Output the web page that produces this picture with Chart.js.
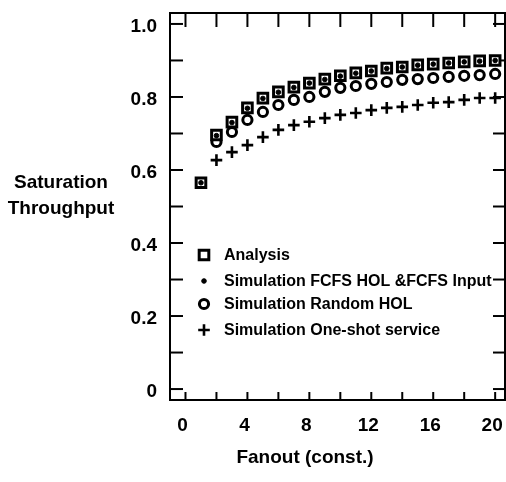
<!DOCTYPE html>
<html lang="en">
<head>
<meta charset="UTF-8">
<title>Saturation Throughput vs Fanout</title>
<script src="https://cdn.jsdelivr.net/npm/chart.js"></script>
<style>
    html, body { margin: 0; padding: 0; background: #fff; }
    #wrap { width: 506px; height: 482px; }
</style>
</head>
<body>
<div id="wrap"><canvas id="myChart" width="506" height="482"></canvas></div>

<script>
    // values
    const fanout = [1, 2, 3, 4, 5, 6, 7, 8, 9, 10, 11, 12, 13, 14, 15, 16, 17, 18, 19, 20];
    const analysis = [0.565, 0.696, 0.731, 0.770, 0.797, 0.814, 0.827, 0.838, 0.849, 0.858, 0.866, 0.871, 0.879, 0.882, 0.888, 0.890, 0.893, 0.896, 0.899, 0.900];
    const fcfsHol = [0.565, 0.694, 0.730, 0.769, 0.796, 0.813, 0.826, 0.838, 0.848, 0.857, 0.865, 0.871, 0.878, 0.882, 0.887, 0.890, 0.893, 0.896, 0.898, 0.900];
    const randomHol = [null, 0.677, 0.704, 0.737, 0.759, 0.778, 0.792, 0.800, 0.814, 0.825, 0.830, 0.836, 0.841, 0.847, 0.849, 0.852, 0.855, 0.858, 0.860, 0.863];
    const oneShot = [null, 0.627, 0.649, 0.668, 0.690, 0.710, 0.723, 0.732, 0.742, 0.751, 0.756, 0.764, 0.770, 0.773, 0.778, 0.784, 0.786, 0.792, 0.797, 0.797];

    const seriesNames = ['Analysis', 'Simulation FCFS HOL &FCFS Input', 'Simulation Random HOL', 'Simulation One-shot service'];
    const yTickLabels = [0, 0.2, 0.4, 0.6, 0.8, 1.0];
    const xTickLabels = [0, 4, 8, 12, 16, 20];
    const yMinorTicks = [0, 0.1, 0.2, 0.3, 0.4, 0.5, 0.6, 0.7, 0.8, 0.9, 1.0];
    const xMinorTicks = [0, 2, 4, 6, 8, 10, 12, 14, 16, 18, 20];

    const FONT = '"Liberation Sans", Arial, sans-serif';

    function toPoints(values) {
        return fanout.map((f, i) => ({ x: f, y: values[i] }));
    }

    function line(ctx, x1, y1, x2, y2) {
        ctx.beginPath();
        ctx.moveTo(x1, y1);
        ctx.lineTo(x2, y2);
        ctx.stroke();
    }

    // frame with inward ticks, axis titles and the legend box inside the plot
    const framePlugin = {
        id: 'frame',
        beforeDatasetsDraw(chart) {
            const { ctx, chartArea: a, scales: { x, y } } = chart;
            ctx.save();
            ctx.strokeStyle = '#000';
            ctx.lineWidth = 2;
            ctx.strokeRect(a.left, a.top, a.right - a.left - 1, a.bottom - a.top);
            yMinorTicks.forEach(v => {
                const py = y.getPixelForValue(v);
                line(ctx, a.left, py, a.left + 13, py);
                line(ctx, a.right, py, a.right - 13, py);
            });
            xMinorTicks.forEach(v => {
                const px = x.getPixelForValue(v);
                line(ctx, px, a.top, px, a.top + 14);
                line(ctx, px, a.bottom, px, a.bottom - 8);
            });
            ctx.restore();
        },
        afterDraw(chart) {
            const { ctx } = chart;
            ctx.save();
            ctx.fillStyle = '#000';
            ctx.font = 'bold 19px ' + FONT;
            ctx.textAlign = 'center';
            ctx.textBaseline = 'middle';
            ctx.fillText('Saturation', 61, 183);
            ctx.fillText('Throughput', 61, 209);
            ctx.fillText('Fanout (const.)', 305, 458);

            // legend
            const rows = [255, 281, 304, 330];
            ctx.font = 'bold 16px ' + FONT;
            ctx.textAlign = 'left';
            chart.data.datasets.forEach((ds, i) => {
                ctx.strokeStyle = '#000';
                ctx.fillStyle = ds.pointBackgroundColor;
                ctx.lineWidth = ds.pointBorderWidth;
                Chart.helpers.drawPoint(ctx, {
                    pointStyle: ds.pointStyle,
                    radius: ds.pointRadius,
                    borderWidth: ds.pointBorderWidth,
                    rotation: 0
                }, 204, rows[i]);
                ctx.fillStyle = '#000';
                ctx.fillText(seriesNames[i], 224, rows[i] + 1);
            });
            ctx.restore();
        }
    };

    function createChart() {
        const ctx = document.getElementById('myChart').getContext('2d');

        new Chart(ctx, {
            type: 'scatter',
            data: {
                datasets: [{
                    label: seriesNames[0],
                    data: toPoints(analysis),
                    pointStyle: 'rect',
                    pointRadius: 6.8,
                    pointBorderWidth: 3,
                    pointBorderColor: '#000',
                    pointBackgroundColor: '#fff',
                    order: 1
                }, {
                    label: seriesNames[1],
                    data: toPoints(fcfsHol),
                    pointStyle: 'circle',
                    pointRadius: 2.3,
                    pointBorderWidth: 1,
                    pointBorderColor: '#000',
                    pointBackgroundColor: '#000',
                    order: 0
                }, {
                    label: seriesNames[2],
                    data: toPoints(randomHol),
                    pointStyle: 'circle',
                    pointRadius: 4.6,
                    pointBorderWidth: 3,
                    pointBorderColor: '#000',
                    pointBackgroundColor: '#fff',
                    order: 2
                }, {
                    label: seriesNames[3],
                    data: toPoints(oneShot),
                    pointStyle: 'cross',
                    pointRadius: 5.8,
                    pointBorderWidth: 2.6,
                    pointBorderColor: '#000',
                    pointBackgroundColor: '#000',
                    order: 3
                }]
            },
            options: {
                responsive: false,
                animation: false,
                layout: { autoPadding: false, padding: { top: 13, right: 0, left: 0, bottom: 0 } },
                plugins: {
                    legend: { display: false },
                    tooltip: { enabled: false }
                },
                scales: {
                    x: {
                        type: 'linear',
                        min: -1,
                        max: 20.7,
                        grid: { display: false, drawTicks: false },
                        border: { display: false },
                        afterBuildTicks: scale => { scale.ticks = xTickLabels.map(v => ({ value: v })); },
                        afterFit: scale => {
                            scale.height = 82;
                            scale.paddingLeft = 0;
                            scale.paddingRight = 0;
                        },
                        ticks: {
                            padding: 14,
                            labelOffset: -3,
                            maxRotation: 0,
                            color: '#000',
                            font: { family: FONT, size: 19, weight: 'bold' }
                        }
                    },
                    y: {
                        min: -0.03,
                        max: 1.03,
                        grid: { display: false, drawTicks: false },
                        border: { display: false },
                        afterBuildTicks: scale => { scale.ticks = yTickLabels.map(v => ({ value: v })); },
                        afterFit: scale => {
                            scale.width = 170;
                            scale.paddingTop = 0;
                            scale.paddingBottom = 0;
                        },
                        ticks: {
                            padding: 13,
                            labelOffset: 3,
                            color: '#000',
                            font: { family: FONT, size: 19, weight: 'bold' },
                            callback: v => (v === 0 ? '0' : v.toFixed(1))
                        }
                    }
                }
            },
            plugins: [framePlugin]
        });
    }

    document.addEventListener('DOMContentLoaded', createChart);
</script>
</body>
</html>
